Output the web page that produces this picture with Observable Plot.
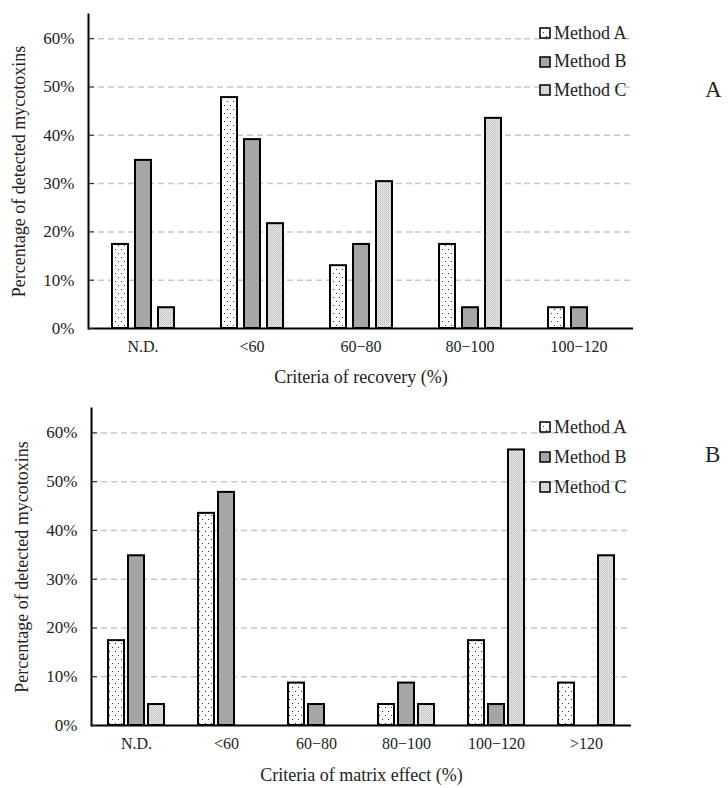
<!DOCTYPE html>
<html><head><meta charset="utf-8">
<script src="https://cdn.jsdelivr.net/npm/d3@7"></script>
<script src="https://cdn.jsdelivr.net/npm/@observablehq/plot@0.6"></script>
<style>
body{margin:0;background:#fff;}
#wrap{position:relative;width:728px;height:788px;font-family:"Liberation Serif","Times New Roman",serif;color:#222;overflow:hidden;}
.panel{position:absolute;left:0;}
.legend{position:absolute;left:539px;font-family:"Liberation Serif","Times New Roman",serif;font-size:18px;}
.legend .row{display:flex;align-items:center;}
.legend svg{margin-right:3px;display:block;}
.tag{position:absolute;font-family:"Liberation Serif","Times New Roman",serif;font-size:23px;line-height:26px;}
</style></head><body>
<svg width="0" height="0" style="position:absolute">
<defs>
<pattern id="patA" width="6" height="8" patternUnits="userSpaceOnUse">
 <rect width="6" height="8" fill="#fff"/>
 <rect x="1" y="1" width="1" height="1" fill="#333"/>
 <rect x="4" y="5" width="1" height="1" fill="#333"/>
</pattern>
<pattern id="patC" width="2" height="2" patternUnits="userSpaceOnUse">
 <rect width="2" height="2" fill="#e8e8e8"/>
 <rect width="1" height="1" fill="#bdbdbd"/>
 <rect x="1" y="1" width="1" height="1" fill="#cfcfcf"/>
</pattern>
</defs></svg>
<div id="wrap"></div>
<script>
const methods = ["Method A", "Method B", "Method C"];
const methodFills = ["url(#patA)", "#a6a6a6", "url(#patC)"];

const recoveryCategories = ["N.D.", "<60", "60−80", "80−100", "100−120"];
const recoveryMethodA = [17.4, 47.8, 13.0, 17.4, 4.3];
const recoveryMethodB = [34.8, 39.1, 17.4, 4.3, 4.3];
const recoveryMethodC = [4.3, 21.7, 30.4, 43.5, 0];

const matrixCategories = ["N.D.", "<60", "60−80", "80−100", "100−120", ">120"];
const matrixMethodA = [17.4, 43.5, 8.7, 4.3, 17.4, 8.7];
const matrixMethodB = [34.8, 47.8, 4.3, 8.7, 4.3, 0];
const matrixMethodC = [4.3, 0, 0, 4.3, 56.5, 34.8];

const yTicks = [0, 10, 20, 30, 40, 50, 60];
const yLabel = "Percentage of detected mycotoxins";
const serif = "'Liberation Serif', 'Times New Roman', serif";

function panel({categories, series, height, marginTop, marginBottom, xLabel, pi, po, labelOffset}) {
  const data = [];
  categories.forEach((c, i) => methods.forEach((m, j) => {
    const v = series[j][i];
    if (v > 0) data.push({category: c, method: m, value: v});
  }));
  return Plot.plot({
    width: 728, height, marginLeft: 88, marginRight: 95, marginTop, marginBottom,
    style: {fontFamily: serif, fontSize: "16px", color: "#222", background: "transparent", overflow: "visible"},
    fx: {domain: categories, padding: 0, label: null},
    x: {domain: methods, paddingInner: pi, paddingOuter: po, axis: null},
    y: {domain: [0, 65]},
    color: {domain: methods, range: methodFills},
    marks: [
      Plot.gridY(yTicks.filter(t => t > 0), {stroke: "#c8c8c8", strokeOpacity: 1, strokeWidth: 1.5, strokeDasharray: "6,4"}),
      Plot.barY(data, {fx: "category", x: "method", y: "value", fill: "method", stroke: "black", strokeWidth: 2}),
      Plot.ruleY([0], {stroke: "black", strokeWidth: 2}),
      Plot.frame({anchor: "left", facetAnchor: "left", stroke: "black", strokeWidth: 2}),
      Plot.axisY(yTicks, {tickSize: -6, tickPadding: 20, tickFormat: d => d + "%", label: null, fontFamily: serif, fontSize: 17}),
      Plot.axisY({ticks: [], label: yLabel, labelArrow: false, labelAnchor: "center", labelOffset: 76, fontSize: 18, fontFamily: serif}),
      Plot.axisFx({anchor: "bottom", tickSize: 0, tickPadding: 12, label: null, fontFamily: serif, fontSize: 16}),
      Plot.axisFx({anchor: "bottom", ticks: [], label: xLabel, labelArrow: false, labelAnchor: "center", labelOffset, fontSize: 18, fontFamily: serif})
    ]
  });
}

const wrap = document.getElementById("wrap");

function addPanel(top, opts, legendTop, legendGap, tagTop, tag) {
  const el = panel(opts);
  el.classList.add("panel");
  el.style.top = top + "px";
  wrap.appendChild(el);
  const lg = document.createElement("div");
  lg.className = "legend";
  lg.style.top = legendTop + "px";
  methods.forEach((m, j) => {
    const row = document.createElement("div");
    row.className = "row";
    row.style.height = legendGap + "px";
    row.innerHTML = `<svg width="12" height="12"><rect x="1" y="1" width="10" height="10" fill="${methodFills[j]}" stroke="black" stroke-width="1.5"/></svg><span>${m}</span>`;
    lg.appendChild(row);
  });
  wrap.appendChild(lg);
  const t = document.createElement("div");
  t.className = "tag";
  t.style.left = "705px";
  t.style.top = tagTop + "px";
  t.textContent = tag;
  wrap.appendChild(t);
}

addPanel(0, {categories: recoveryCategories, series: [recoveryMethodA, recoveryMethodB, recoveryMethodC],
  height: 390, marginTop: 14, marginBottom: 62, xLabel: "Criteria of recovery (%)", pi: 0.32, po: 0.98, labelOffset: 54}, 19, 28.5, 77, "A");
addPanel(390, {categories: matrixCategories, series: [matrixMethodA, matrixMethodB, matrixMethodC],
  height: 398, marginTop: 18, marginBottom: 63, xLabel: "Criteria of matrix effect (%)", pi: 0.19, po: 0.76, labelOffset: 55}, 412, 30, 442, "B");
</script>
</body></html>
